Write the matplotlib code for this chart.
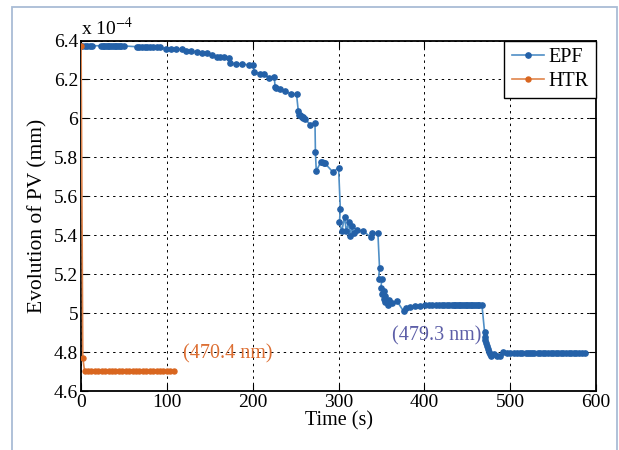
#!/usr/bin/python3

import numpy as np
import matplotlib
matplotlib.use("Agg")
import matplotlib.pyplot as plt
from matplotlib.patches import Rectangle

# PV evolution (units of 1e-4 mm) vs time for both methods
t_epf = [1.5, 4, 7, 10, 13,
         23, 25, 27, 29, 31, 33, 35, 37, 39, 41, 43, 45, 47, 50,
         65, 68, 71, 74, 77, 80, 84, 88,
         92, 99, 105, 110, 117,
         122, 128, 135, 141, 147, 152, 158, 162, 166, 172,
         174, 181, 188, 196, 200,
         202, 208, 213, 219, 225,
         226, 227, 232, 238, 245, 251,
         253, 254, 255, 256, 257, 258, 259, 261, 267, 272.5,
         273, 274, 279.5, 281, 282.5, 284, 293, 300,
         302, 301, 303.8, 306.9, 309, 311.6, 313.5, 315.5, 317.4, 321.3, 329, 337.6, 338.8, 345.8,
         347.7, 346.6, 350.4, 349.3, 352.4, 351, 353.5, 352.5, 355, 354, 357, 359, 358, 362, 368,
         375.8, 378, 383, 389, 395, 401,
         405, 409, 413, 417, 420, 423, 426, 429, 432, 434, 436, 438, 440, 442, 444, 446, 448,
         450, 452, 454, 456, 458, 460, 462, 464, 467,
         470, 470.5, 471, 472, 473, 474, 475, 476, 478, 481, 485, 488, 492, 496, 500,
         504, 508, 511, 514, 518, 521, 523, 525, 528, 532, 535, 538, 541, 544, 547, 550,
         553, 556, 559, 562, 565, 568, 571, 574, 577, 580, 583, 587]
pv_epf = [6.373, 6.373, 6.373, 6.373, 6.373,
          6.373, 6.373, 6.373, 6.373, 6.373, 6.373, 6.373, 6.373, 6.373, 6.373, 6.373, 6.373, 6.373, 6.372,
          6.368, 6.368, 6.368, 6.368, 6.368, 6.368, 6.367, 6.367,
          6.365, 6.356, 6.356, 6.356, 6.355,
          6.347, 6.347, 6.340, 6.334, 6.334, 6.326, 6.314, 6.314, 6.314, 6.308,
          6.283, 6.280, 6.280, 6.273, 6.273,
          6.238, 6.230, 6.227, 6.210, 6.214,
          6.163, 6.155, 6.150, 6.140, 6.124, 6.124,
          6.040, 6.020, 6.015, 6.010, 6.008, 6.005, 6.000, 5.998, 5.967, 5.978,
          5.827, 5.730, 5.778, 5.775, 5.772, 5.770, 5.726, 5.745,
          5.536, 5.466, 5.420, 5.496, 5.420, 5.466, 5.397, 5.445, 5.410, 5.428, 5.420, 5.390, 5.410, 5.410,
          5.232, 5.175, 5.175, 5.130, 5.115, 5.100, 5.090, 5.075, 5.070, 5.055, 5.060, 5.065, 5.044, 5.050, 5.062,
          5.009, 5.025, 5.030, 5.035, 5.038, 5.040,
          5.043, 5.043, 5.043, 5.043, 5.043, 5.043, 5.043, 5.043, 5.043, 5.043, 5.043, 5.043, 5.043, 5.043, 5.043, 5.043, 5.043,
          5.043, 5.043, 5.043, 5.043, 5.043, 5.043, 5.043, 5.043, 5.043,
          4.905, 4.880, 4.860, 4.845, 4.830, 4.815, 4.800, 4.790, 4.782, 4.790, 4.782, 4.782, 4.800, 4.795, 4.797,
          4.795, 4.795, 4.795, 4.795, 4.795, 4.795, 4.795, 4.795, 4.795, 4.795, 4.795, 4.795, 4.795, 4.795, 4.795, 4.795,
          4.795, 4.795, 4.795, 4.795, 4.795, 4.795, 4.795, 4.795, 4.795, 4.795, 4.795, 4.795]

t_htr = [0, 2, 4, 8, 12, 16, 20, 24, 28, 32, 36, 40, 44, 48, 52, 56, 60,
         64, 68, 72, 76, 80, 84, 88, 92, 96, 100, 104, 108]
pv_htr = [6.373, 4.770, 4.705, 4.705, 4.705, 4.705, 4.705, 4.705, 4.705, 4.705, 4.705,
          4.705, 4.705, 4.705, 4.705, 4.705, 4.705, 4.705, 4.705, 4.705, 4.705, 4.705,
          4.705, 4.705, 4.705, 4.705, 4.705, 4.705, 4.705]

xticks = [0, 100, 200, 300, 400, 500, 600]
yticks = [4.6, 4.8, 5, 5.2, 5.4, 5.6, 5.8, 6, 6.2, 6.4]
ylabels = ["4.6", "4.8", "5", "5.2", "5.4", "5.6", "5.8", "6", "6.2", "6.4"]

plt.rcParams['font.family'] = ['Liberation Serif', 'DejaVu Serif']
plt.rcParams['mathtext.fontset'] = 'stix'

fig = plt.figure(figsize=(6.19, 4.5), dpi=100)
fig.patches.append(Rectangle((12/619, -0.1), 605/619, 1.1 - 7/450, transform=fig.transFigure,
                             fill=False, edgecolor="#a9bcd6", linewidth=1.3))
ax = fig.add_axes([0.131, 0.131, 0.832, 0.779])
ax.set_axisbelow(True)

ax.plot(t_epf, pv_epf, color="#4f8fc6", lw=1.2, marker="o", ms=3.8,
        mfc="#2461a8", mec="#2461a8", label="EPF", zorder=3)
ax.plot(t_htr, pv_htr, color="#e0854c", lw=1.2, marker="o", ms=3.6,
        mfc="#d9661f", mec="#d9661f", label="HTR", zorder=3)

ax.set_xlim(0, 600)
ax.set_ylim(4.6, 6.4)
ax.set_xticks(xticks)
ax.set_yticks(yticks)
ax.set_yticklabels(ylabels)
ax.tick_params(direction="in", top=True, right=True, labelsize=14, length=5, pad=2)
ax.grid(True, color="black", linestyle=(0, (2.5, 4)), linewidth=0.7)
for s in ax.spines.values():
    s.set_linewidth(1.3)

ax.set_xlabel("Time (s)", fontsize=14.5, labelpad=0)
ax.set_ylabel("Evolution of PV (mm)", fontsize=15.5, labelpad=5)
ax.text(0, 1.005, r"x 10$^{-4}$", transform=ax.transAxes, fontsize=14, va="bottom", ha="left")

ax.text(119, 4.79, "(470.4 nm)", color="#dd6f33", fontsize=14.5, va="center")
ax.text(362, 4.885, "(479.3 nm)", color="#5d5fa8", fontsize=14.5, va="center")

leg = ax.legend(loc="upper right", fontsize=14.5, fancybox=False, framealpha=1,
                edgecolor="black", borderaxespad=0, handlelength=1.6,
                handletextpad=0.25, borderpad=0.35, labelspacing=0.25)
leg.get_frame().set_linewidth(1.0)

fig.savefig("out.png", dpi=100)
